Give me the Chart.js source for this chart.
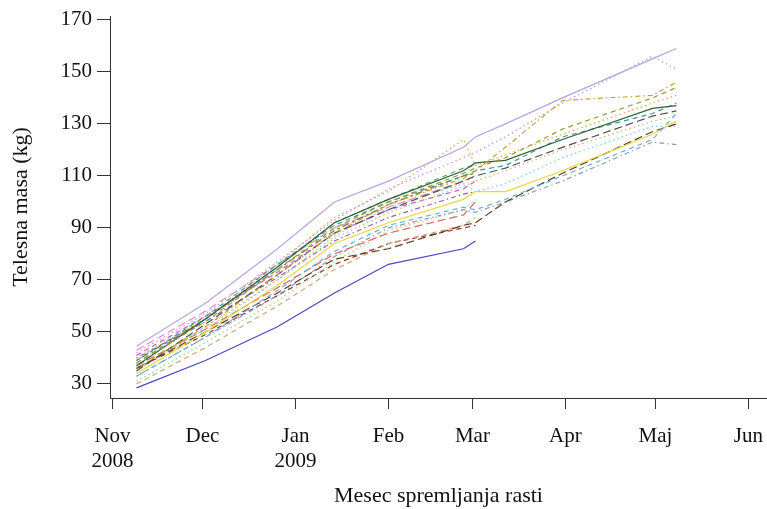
<!DOCTYPE html>
<html>
<head>
<meta charset="utf-8">
<script src="https://cdn.jsdelivr.net/npm/chart.js@4/dist/chart.umd.min.js"></script>
<style>
  html, body { margin: 0; padding: 0; background: #fff; }
  #rastChart { display: block; }
</style>
</head>
<body>
<canvas id="rastChart" width="767" height="509"></canvas>
<script>
// ===================== DATA =====================
// days counted from 1 Nov 2008
const measureDays = [8, 31, 55, 74, 92, 117, 121, 131, 150, 180, 188];
const monthTicks = [0, 30, 61, 92, 120, 151, 181, 212];
const monthLabels = [["Nov", "2008"], ["Dec"], ["Jan", "2009"], ["Feb"], ["Mar"], ["Apr"], ["Maj"], ["Jun"]];
const massTicks = [30, 50, 70, 90, 110, 130, 150, 170];

// body mass (kg) of each animal, one value per measurement day
const pig01 = [44.5, 61, 82, 100, 108, 121, 125, 130, 140, 155, 159];
const pig02 = [42, 57, 77, 93, 105, 117, 119, 125, 138, 156, 151];
const pig03 = [36, 52, 72, 88, 99, 109, 112, 121, 139, 141, 146];
const pig04 = [38, 54, 74, 90, 100, 111, 113, 117, 128, 140, 144];
const pig05 = [37, 55, 75, 92, 101, 112, 115, 116, 124, 136, 137];
const pig06 = [39, 56, 76, 91, 100, 110, 112, 114, 125, 134, 138];
const pig07 = [35, 53, 72, 88, 97, 108, 110, 113, 121, 133, 135];
const pig08 = [33, 48, 66, 81, 91, 98, 97, 101, 110, 124, 134];
const pig09 = [34, 50, 68, 84, 92, 101, 104, 104, 112, 126, 131];
const pig10 = [36, 50, 65, 78, 82, 91, 92, 100, 111, 127, 130];
const pig11 = [33, 48, 64, 79, 90, 97, 96, 100, 108, 123, 122];
const pig12 = [35, 52, 70, 86, 96, 106, 108, 112, 120, 131, 133];
const pig13 = [40, 55, 76, 94, 104, 124, 114, 118, 126, 138, 141];
const pig14 = [36, 51, 70, 87, 98, 107, 104, 107, 117, 129, 129];
const pig15 = [28.5, 39, 52, 65, 76, 82, 85];
const pig16 = [41, 56, 73, 88, 97, 105, 108];
const pig17 = [40, 54, 71, 85, 94, 103, 104];
const pig18 = [38, 55, 75, 92, 101, 113, 114];
const pig19 = [37, 51, 67, 80, 88, 95, 100];
const pig20 = [31, 46, 62, 77, 89, 97, 101];
const pig21 = [30, 44, 60, 74, 84, 91, 94];
const pig22 = [39, 55, 74, 89, 99, 110, 111];
const pig23 = [43, 58, 76, 90, 98, 108, 110];
const pig24 = [36, 49, 64, 76, 84, 90, 91];

// ===================== LINE STYLES =====================
const solid = [];
const dashed = [5, 4];
const dotted = [1.5, 3];
const dotdash = [1.5, 3, 5, 3];
const longdash = [8, 4];
const twodash = [3, 3, 7, 3];

const series = [
  [pig01, "#b4a4e4", solid],
  [pig02, "#c890d8", dotted],
  [pig03, "#c8a030", dotdash],
  [pig04, "#9a9a3a", dashed],
  [pig05, "#2f5f3a", solid],
  [pig06, "#3a9a9a", dashed],
  [pig07, "#505050", longdash],
  [pig08, "#6aaee0", dashed],
  [pig09, "#e8d83a", solid],
  [pig10, "#5a3a1a", longdash],
  [pig11, "#8aa0b0", dotdash],
  [pig12, "#c8b878", dotted],
  [pig13, "#e0a050", dotted],
  [pig14, "#80c8e0", dotted],
  [pig15, "#4848c0", solid],
  [pig16, "#d050d0", dashed],
  [pig17, "#9060c0", dotdash],
  [pig18, "#58a858", dashed],
  [pig19, "#e06060", longdash],
  [pig20, "#a0d080", dotted],
  [pig21, "#c8a878", dashed],
  [pig22, "#7a7a30", twodash],
  [pig23, "#e890c0", longdash],
  [pig24, "#903030", dashed]
];

const datasets = series.map(([values, color, dash]) => ({
  data: values.map((v, i) => ({ x: measureDays[i], y: v })),
  borderColor: color,
  borderWidth: 1.2,
  borderDash: dash,
  pointRadius: 0,
  tension: 0,
  fill: false
}));

// ===================== CHART =====================
const serif = "'Liberation Serif', 'Times New Roman', serif";
const ctx = document.getElementById("rastChart").getContext("2d");

new Chart(ctx, {
  type: "line",
  data: { datasets: datasets },
  options: {
    responsive: false,
    animation: false,
    devicePixelRatio: 1,
    layout: { padding: { top: 16, right: 0, bottom: 0, left: 0 } },
    plugins: {
      legend: { display: false },
      tooltip: { enabled: false }
    },
    scales: {
      x: {
        type: "linear",
        min: -0.83,
        max: 218.2,
        afterBuildTicks: (scale) => {
          scale.ticks = monthTicks.map(v => ({ value: v }));
        },
        afterFit: (scale) => {
          scale.height = 111;
          scale.paddingLeft = 0;
          scale.paddingRight = 0;
        },
        grid: { drawOnChartArea: false, drawTicks: true, tickLength: 11, color: "#333", lineWidth: 1 },
        border: { display: true, color: "#333", width: 1 },
        ticks: {
          autoSkip: false,
          maxRotation: 0,
          padding: 15,
          color: "#111",
          font: { family: serif, size: 21, lineHeight: 1.2 },
          callback: (value) => monthLabels[monthTicks.indexOf(value)]
        },
        title: {
          display: true,
          text: "Mesec spremljanja rasti",
          color: "#111",
          font: { family: serif, size: 22 },
          padding: { top: 0, bottom: 0 }
        }
      },
      y: {
        min: 24.6,
        max: 171.5,
        afterBuildTicks: (scale) => {
          scale.ticks = massTicks.map(v => ({ value: v }));
        },
        afterFit: (scale) => {
          scale.width = 110;
          scale.paddingTop = 0;
          scale.paddingBottom = 0;
        },
        grid: { drawOnChartArea: false, drawTicks: true, tickLength: 13, color: "#333", lineWidth: 1 },
        border: { display: true, color: "#333", width: 1 },
        ticks: {
          padding: 5,
          color: "#111",
          font: { family: serif, size: 21 }
        },
        title: {
          display: true,
          text: "Telesna masa (kg)",
          color: "#111",
          font: { family: serif, size: 22 },
          padding: { top: 8, bottom: 0 }
        }
      }
    }
  }
});
</script>
</body>
</html>
